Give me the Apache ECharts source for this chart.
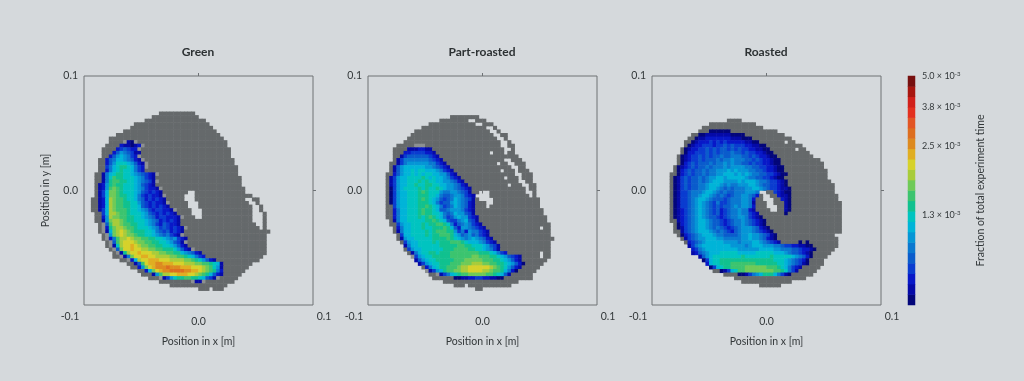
<!DOCTYPE html>
<html><head><meta charset="utf-8">
<style>html,body{margin:0;padding:0;background:#d5d9dc}#c{width:1024px;height:381px}</style>
<script src="https://cdn.jsdelivr.net/npm/echarts@6/dist/echarts.min.js"></script>
</head><body><div id="c"></div>
<script>
// Rows: [row, firstCol, lastCol, colourStartCol, levels]. Level chars 0-9a-l = colour band, '#' gray, '+' pale gray, '.' empty
const greenRows = [
[10,21,30],[11,19,31],[12,17,33],[13,14,34],[14,13,35],[15,11,36],[16,9,37],[17,7,38],
[18,7,39,11,"+10+"],[19,6,39,10,"211012+"],[20,5,40,9,"234322+"],[21,5,40,8,"24654311"],[22,5,40,7,"24676532+"],
[23,4,41,6,"2457765421+"],[24,4,41,6,"24688876421+"],[25,4,42,6,"35789987532+"],[26,4,42,6,"25789887532"],
[27,3,42,5,"157899887654321+"],[28,3,43,5,"158a99888765321"],[29,3,43,5,"159aa9988765431+"],
[30,3,43,4,"1269a99888764321"],[31,3,44,4,"126aba98887653221+"],[32,3,44,4,"137bba988876432321"],
[33,3,46,4,"137bba998875323221+"],[34,2,48,4,"127cbaa988754232321"],[35,2,48,4,"127cbaa998864323221+"],
[36,2,49,4,"127cbaa9988743232321"],[37,2,49,4,"137cbaaa9887653233221+"],[38,3,50,5,"37ccbaa98887643232321"],
[39,3,50,5,"26cbbaa998876542332221+"],[40,3,50,5,"16bccba998887654232321"],[41,4,50,5,"+4accbaa99887653243221"],
[42,4,50,5,"+29bccbaa98887653432321+"],[43,4,51,5,"+17bcdcba99988754342321"],[44,5,50,6,"+6bcdcbba998876545321+"],
[45,5,50,6,"+25accdcbbaa99887656321"],[46,6,50,7,"+4acdddcbbaa998876431+"],[47,6,50,7,"+18cddedcbbaa998876421"],
[48,7,50,8,"+4bddeddccbbaa99986421+"],[49,8,50,9,"+19cddedddccbbaa99765421"],[50,8,49,10,"+15bddeeddccccbbaa987532"],
[51,10,48,12,"+27cddeeedddccccbba986421"],[52,12,46,14,"14adeeffeeedddcccbbaa9871"],[53,13,45,15,"26bdefffgfffeeedddcba861"],
[54,15,44,17,"27bdeffggggffeedcba952"],[55,16,43,19,"16accddeeeddcba97421"],[56,18,42,21,"+136899aa9987431+"],
[57,21,41,30,"+11+"],[58,24,39],[59,32,38]
];
const greenHoles = [
[32,29,30],[33,28,30],[34,28,30],[35,29,31],[36,29,31],[37,30,32],[38,30,32],[39,31,32],
[34,45,46],[35,46,47],[36,47,48],[37,47,48],[38,47,49],[39,47,49],[40,47,49],[41,48,49],[42,49,49],[59,35,35]
];
const partRows = [
[11,23,30],[12,20,32],[13,17,34],[14,15,35],[15,13,36],[16,12,38],[17,11,38],[18,10,39],[19,8,40,13,"+++"],
[20,7,40,11,"1112211"],[21,7,40,10,"223333221"],[22,7,41,9,"13444444321"],[23,7,42,8,"1355555554321"],
[24,6,43,8,"13566666655321"],[25,6,43,7,"1467777776654321"],[26,6,44,7,"14677878877765321"],
[27,5,45,7,"246778787887766421"],[28,5,45,6,"13677888898787765321"],[29,5,45,6,"136778889898877665421"],
[30,5,46,6,"1367788988998877665421"],[31,5,46,6,"03678888989889876654321"],[32,5,46,6,"036778889a9888655665431"],
[33,5,46,6,"036778889998875445665321"],[34,5,47,6,"036778889a98764345765431"],[35,5,47,6,"036778889998753446765421"],
[36,5,47,7,"367788899a9875345765421"],[37,5,48,7,"25778889a99874456665321"],[38,5,48,7,"25778889a99887545766431"],
[39,5,49,7,"2577888989a9875346766321"],[40,6,49,7,"15778888899a987433567431"],[41,6,50,8,"36778889899aa98524565321"],
[42,7,50,8,"2577888988999a97426654321"],[43,7,50,8,"15778888989aaa996352655321"],[44,8,50,9,"37788889899aaa97645645321"],
[45,8,51,9,"1677888889999a987656765421"],[46,9,50,10,"3677888898999aaa9877765321"],[47,10,50,10,"157788888899999aa9988876431"],
[48,10,50,11,"3677888888999aaaa998876531"],[49,11,50,12,"15788998999aaaaaaaa99987532"],[50,12,50,12,"+3678899999aaaaaabbaaa998764321"],
[51,13,49,13,"14678899999aaabbbbbaaa99876421"],[52,14,48,14,"136788999aaabbbcccbbaa99876420"],[53,15,47,16,"257899aaabccddddddcba986421"],
[54,16,46,16,"+13679aabbccddddccbaa97520"],[55,17,45,19,"+135789aabbbbbaa98741"],[56,18,45,24,"00112233221100"],
[57,21,41],[58,24,39],[59,30,31]
];
const partHoles = [
[12,28,29],[13,30,31],[14,33,34],[15,34,35],[16,35,36],[17,36,37],[18,37,38],[19,37,38],[20,38,39],[21,34,34],[21,38,38],
[23,38,39],[24,36,36],[24,39,40],[25,40,41],[26,37,37],[26,41,41],[27,41,42],[28,38,38],[28,42,42],[29,42,43],
[30,39,39],[30,43,44],[31,44,44],[32,44,45],[33,45,45],[32,31,33],[33,30,33],[34,31,34],[35,33,34],[36,33,33],
[42,48,48],[49,48,48],[50,48,48],[58,27,27]
];
const roastedRows = [
[12,21,24],[13,16,28],[14,14,30],[15,13,34,16,"000000"],[16,11,36,13,"0011111110000"],[17,10,38,12,"0112222222111000"],
[18,9,39,11,"0122232323222221100"],[19,9,41,10,"0122333233434333221100"],[20,8,42,9,"012233434344343433221100"],
[21,8,43,9,"0223334343444544343322100"],[22,7,44,8,"012334343445445554434322100"],[23,7,46,8,"0123343444545565554434322100"],
[24,7,47,8,"0234344454556565544343322100"],[25,6,47,7,"012343445455565666655443322100"],[26,6,48,7,"023434454556667676665544322100"],
[27,5,48,7,"0234344545566777676765544332100"],[28,5,48,6,"0134344545667767777765544332100"],[29,5,49,6,"01343445456777666676777655433210"],
[30,5,50,6,"01343445567776565566677654433210"],[31,5,50,6,"013434455677654545556677654332110"],
[32,5,50,6,"013345556776545445556665..##32100"],[33,5,51,6,"013345567765454345566542#..##2110"],
[34,5,51,6,"01334567765444345556652##...##210"],[35,5,52,6,"01334567654353345556651###..###10"],
[36,5,52,6,"01334567654343445656652###...##10"],[37,5,52,6,"01234567654342345565521####..##10"],
[38,5,52,6,"012345676543423455655321#######0"],[39,5,52,6,"0123456765443234556653210"],
[40,5,52,7,"1234567765443234556543210"],[41,6,52,7,"0234567765443234556543210"],[42,6,52,7,"01345677654543234566654210"],
[43,6,52,8,"13456777654543245666543210"],[44,7,50,8,"023456777655444456676654310"],[45,8,51,9,"13456677766555556676654210"],
[46,9,51,10,"23456777776666566677654321#####0#0"],[47,10,51,10,"13567777777766665677766655433221100"],
[48,11,50,11,"23567777777776666667777665554432210"],[49,11,49,11,"1245677788888777778888877765443210"],
[50,13,48,13,"14678888888898888888988888765420"],[51,14,47,14,"037889999999999999998887654320"],
[52,15,47,15,"2788999aaaaaaa999999887654310"],[53,16,46,16,"037899aaaabbbbbbaaa9875321"],
[54,17,45,19,"01378aabbbbbbbbaa98531"],[55,20,44,24,"001356799975310"],[56,23,42],[57,25,38],[58,30,35]
];
const roastedHoles = [[18,37,37],[20,40,40]];

const bandColors = ["#03067a","#050aa8","#0818c8","#0a3cd0","#0a5ccc","#0a78d0","#0596d6","#00b4d8","#00c4c0","#10c18f","#3cc46f","#6fca58","#a8cc3a","#d6d22b","#e0ae22","#dd8a1f","#dd6e1f","#e25524","#e3301f","#d1201a","#a8160f","#77100f"];
const panelTitles = ["Green","Part-roasted","Roasted"];
const panelLefts = [84,368,652];
const xTickValues = [-0.1,0,0.1];
const yTickValues = [0,0.1];
const barTickPositions = [0.393,0.694,0.866,1];
const barTickLabels = ["1.3","2.5","3.8","5.0"];

const GRAY="#65696b", PALE="#8c9092", INK="#33383a", FRAME="#6e7275", BG="#d5d9dc", FONT="Lato";
const N=64, levelChars="0123456789abcdefghijkl";
const cats=Array.from({length:N},(_,i)=>String(i));

function cells(rows,holes){
  const hole=new Set();
  holes.forEach(([r,a,b])=>{for(let c=a;c<=b;c++)hole.add(r+":"+c)});
  const out=[];
  rows.forEach(([r,first,last,start,lv])=>{
    for(let c=first;c<=last;c++){
      if(hole.has(r+":"+c))continue;
      let v=-1;
      if(lv&&c>=start&&c<start+lv.length){
        const ch=lv[c-start];
        if(ch==='.')continue;
        v=ch==='#'?-1:ch==='+'?-2:levelChars.indexOf(ch);
      }
      out.push([c,r,v]);
    }
  });
  return out;
}
const panels=[cells(greenRows,greenHoles),cells(partRows,partHoles),cells(roastedRows,roastedHoles)];

const grid=[],xAxis=[],yAxis=[],series=[],title=[];
const txt={fontFamily:FONT,color:INK,fontSize:10.5};
panels.forEach((data,i)=>{
  grid.push({left:panelLefts[i],top:76,width:229,height:229,show:true,borderColor:FRAME,borderWidth:1,backgroundColor:"transparent"});
  const xi=xAxis.length, yi=yAxis.length;
  xAxis.push({gridIndex:i,type:"category",data:cats,show:false});
  yAxis.push({gridIndex:i,type:"category",data:cats,inverse:true,show:false});
  xAxis.push({gridIndex:i,type:"value",min:-0.1,max:0.1,position:"bottom",name:"Position in x [m]",nameLocation:"middle",nameGap:31,
    nameTextStyle:txt,axisLine:{show:false},splitLine:{show:false},
    axisTick:{show:true,length:3,customValues:[0],lineStyle:{color:FRAME}},
    axisLabel:{show:true,customValues:xTickValues,margin:6,hideOverlap:false,showMinLabel:true,showMaxLabel:true,...txt,
      formatter:v=>v===0?"{m|0.0}":(v<0?"{l|-0.1}":"{r|0.1}"),
      rich:{m:{...txt,padding:[5,0,0,0]},l:{...txt,padding:[0,28,0,0]},r:{...txt,padding:[0,0,0,22]}}}});
  xAxis.push({gridIndex:i,type:"value",min:-0.1,max:0.1,position:"top",axisLine:{show:false},splitLine:{show:false},axisLabel:{show:false},
    axisTick:{show:true,length:3,customValues:[0],lineStyle:{color:FRAME}}});
  yAxis.push({gridIndex:i,type:"value",min:-0.1,max:0.1,position:"left",
    name:i===0?"Position in y [m]":"",nameLocation:"middle",nameGap:33,nameTextStyle:txt,
    axisLine:{show:false},splitLine:{show:false},
    axisTick:{show:true,length:3,customValues:[0],lineStyle:{color:FRAME}},
    axisLabel:{show:true,customValues:yTickValues,margin:6,showMaxLabel:true,...txt,formatter:v=>v.toFixed(1)}});
  yAxis.push({gridIndex:i,type:"value",min:-0.1,max:0.1,position:"right",axisLine:{show:false},splitLine:{show:false},axisLabel:{show:false},
    axisTick:{show:true,length:3,customValues:[0],lineStyle:{color:FRAME}}});
  series.push({type:"heatmap",xAxisIndex:xi,yAxisIndex:yi,data,progressive:0,animation:false,silent:true,itemStyle:{borderWidth:0}});
  title.push({text:panelTitles[i],left:panelLefts[i]+109,top:41,textAlign:"center",textStyle:{fontFamily:FONT,fontSize:12,fontWeight:700,color:"#2c3133"}});
});
// colour bar
const bi=grid.length;
grid.push({left:908,top:76,width:7,height:229});
const barCats=bandColors.map((_,i)=>String(i));
const xb=xAxis.length, yb=yAxis.length;
xAxis.push({gridIndex:bi,type:"category",data:["0"],show:false});
yAxis.push({gridIndex:bi,type:"category",data:barCats,show:false});
yAxis.push({gridIndex:bi,type:"value",min:0,max:1,position:"right",offset:0,
  name:"Fraction of total experiment time",nameLocation:"middle",nameGap:60,nameRotate:90,nameTextStyle:txt,
  axisLine:{show:false},axisTick:{show:false},splitLine:{show:false},
  axisLabel:{show:true,customValues:barTickPositions,margin:7,showMaxLabel:true,...txt,fontSize:9,
    formatter:v=>{const k=barTickPositions.findIndex(p=>Math.abs(p-v)<1e-6);return `{n|${barTickLabels[k]} × 10}{s|-3}`;},
    rich:{n:{...txt,fontSize:9},s:{...txt,fontSize:6,padding:[0,0,4,0]}}}});
series.push({type:"heatmap",xAxisIndex:xb,yAxisIndex:yb,data:bandColors.map((_,i)=>[0,i,i]),progressive:0,animation:false,silent:true});

const pieces=[{value:-2,color:PALE},{value:-1,color:GRAY},...bandColors.map((color,i)=>({value:i,color}))];
const chart=echarts.init(document.getElementById("c"),null,{renderer:"canvas"});
chart.setOption({backgroundColor:BG,animation:false,title,grid,xAxis,yAxis,series,tooltip:{show:false},
  visualMap:{type:"piecewise",show:false,dimension:2,seriesIndex:[0,1,2,3],pieces}});
</script></body></html>
